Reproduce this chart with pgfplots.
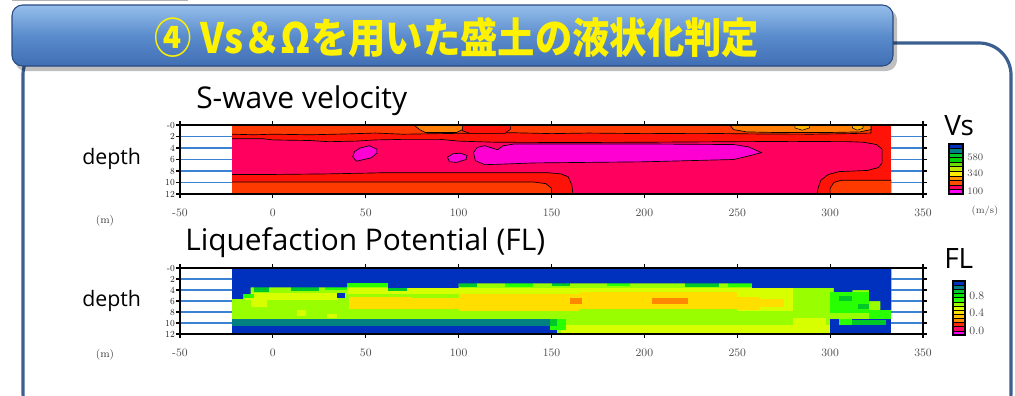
\documentclass[border=0pt]{standalone}
\usepackage{pgfplots}
\pgfplotsset{compat=1.18}
\usepackage{fontspec}
\newfontfamily\osans{Open Sans}
\newfontfamily\cjk{Noto Sans CJK JP}
\definecolor{vsOR}{RGB}{255,58,0}
\definecolor{vsRed}{RGB}{255,18,8}
\definecolor{vsCrim}{RGB}{255,0,95}
\definecolor{vsMag}{RGB}{255,0,210}
\definecolor{vsOrange}{RGB}{255,125,0}
\definecolor{vsYel}{RGB}{255,180,0}
\definecolor{flBlue}{RGB}{0,48,190}
\definecolor{flTeal}{RGB}{0,128,128}
\definecolor{flDG}{RGB}{0,200,40}
\definecolor{flG}{RGB}{40,255,0}
\definecolor{flCh}{RGB}{153,255,0}
\definecolor{flLY}{RGB}{215,255,0}
\definecolor{flYel}{RGB}{255,222,0}
\definecolor{flOr}{RGB}{255,136,0}
\definecolor{cbA}{RGB}{0,210,0}
\definecolor{cbB}{RGB}{110,220,0}
\definecolor{cbC}{RGB}{190,230,0}
\definecolor{cbD}{RGB}{255,235,0}
\definecolor{cbE}{RGB}{255,150,0}
\definecolor{cbF}{RGB}{255,80,0}
\definecolor{cbM}{RGB}{255,0,255}
\definecolor{cbG}{RGB}{0,230,0}
\definecolor{cbH}{RGB}{255,190,0}
\definecolor{cbR}{RGB}{255,40,0}
\definecolor{gridblue}{RGB}{60,130,210}
\definecolor{frameblue}{RGB}{60,95,145}
\definecolor{bantop}{RGB}{150,190,235}
\definecolor{banmid}{RGB}{90,140,205}
\definecolor{banbot}{RGB}{65,110,180}
\definecolor{bandark}{RGB}{40,75,130}
\newcommand{\rect}[5]{\addplot[fill=#1,draw=none,forget plot] coordinates {(#2,#4) (#3,#4) (#3,#5) (#2,#5)} --cycle;}
\pgfplotsset{
  mapaxis/.style={
    scale only axis, width=557.25pt,
    xmin=-50, xmax=350, ymin=0, ymax=12, y dir=reverse,
    axis on top, clip=true,
    xtick={-50,0,...,350}, ytick={0,2,...,12},
    xticklabels={-50,0,50,100,150,200,250,300,350},
    yticklabels={-0,2,4,6,8,10,12},
    tick align=outside, major tick length=3pt,
    every tick/.style={black, line width=0.9pt},
    axis line style={line width=1pt},
    xticklabel style={font=\fontsize{8.5}{8.5}\selectfont, text=black!70, yshift=-5pt},
    yticklabel style={font=\fontsize{7}{7}\selectfont, text=black!85, inner sep=0.8pt, xscale=0.9},
  }
}
\begin{document}
\begin{tikzpicture}
\path[use as bounding box] (0,0) rectangle (761.25pt,-297pt);
\begin{scope}[x=0.75pt,y=-0.75pt]
  \begin{scope}
    \clip (0,0) rectangle (1015,396);
    \draw[frameblue, line width=2.4pt, rounded corners=24pt] (23,43) rectangle (1011,425);
    \draw[gray!60, line width=0.6pt] (12,0.6) -- (188,0.6);
  \end{scope}
  \fill[black, opacity=0.25, rounded corners=8pt] (15,9) rectangle (897,71);
  \shadedraw[top color=bantop, bottom color=banbot, middle color=banmid, draw=bandark, line width=0.8pt, rounded corners=8pt] (12,5) rectangle (893,66);
  \node[text=yellow, font=\cjk\bfseries\fontsize{28}{28}\selectfont, yscale=1.12] at (457,38) {④ Vs＆Ωを用いた盛土の液状化判定};
  % titles
  \node[anchor=base west, inner sep=0pt, font=\osans\fontsize{22.5}{22.5}\selectfont] at (196,108) {S-wave velocity};
  \node[anchor=base west, inner sep=0pt, font=\osans\fontsize{22.4}{22.4}\selectfont] at (185,250) {Liquefaction Potential (FL)};
  \node[anchor=base west, inner sep=0pt, font=\osans\fontsize{16}{16}\selectfont] at (82,164) {depth};
  \node[anchor=base west, inner sep=0pt, font=\osans\fontsize{16}{16}\selectfont] at (82,306) {depth};
  \node[anchor=base west, inner sep=0pt, font=\osans\fontsize{21}{21}\selectfont] at (944,135) {Vs};
  \node[anchor=base west, inner sep=0pt, font=\osans\fontsize{21}{21}\selectfont] at (944,268) {FL};
  \node[font=\fontsize{8}{8}\selectfont, text=black!75] at (105,221) {(m)};
  \node[font=\fontsize{8}{8}\selectfont, text=black!75] at (105,355) {(m)};
  % Vs colour bar
  \foreach \c [count=\i from 0] in {flBlue,flTeal,flDG,cbA,cbB,cbC,cbD,cbE,cbF,vsCrim,cbM}{
    \fill[\c] (949,{144+\i*4.545}) rectangle (963,{144+(\i+1)*4.545});
    \draw[black, line width=0.4pt] (949,{144+\i*4.545}) -- (963,{144+\i*4.545});
  }
  \draw[black, line width=0.8pt] (949,144) rectangle (963,194);
  \node[anchor=west, font=\fontsize{7.5}{7.5}\selectfont, text=black!70, inner sep=0pt] at (967,157) {580};
  \node[anchor=west, font=\fontsize{7.5}{7.5}\selectfont, text=black!70, inner sep=0pt] at (967,173) {340};
  \node[anchor=west, font=\fontsize{7.5}{7.5}\selectfont, text=black!70, inner sep=0pt] at (967,191) {100};
  \node[font=\fontsize{7.5}{7.5}\selectfont, text=black!70] at (985,211) {(m/s)};
  % FL colour bar
  \foreach \c [count=\i from 0] in {flBlue,flTeal,flDG,cbG,flG,flCh,flLY,flYel,cbH,flOr,cbR,vsCrim,cbM}{
    \fill[\c] (953,{281+\i*4.154}) rectangle (965,{281+(\i+1)*4.154});
    \draw[black, line width=0.4pt] (953,{281+\i*4.154}) -- (965,{281+\i*4.154});
  }
  \draw[black, line width=0.8pt] (953,281) rectangle (965,335);
  \node[anchor=west, font=\fontsize{8.5}{8.5}\selectfont, text=black!70, inner sep=0pt] at (969,296) {0.8};
  \node[anchor=west, font=\fontsize{8.5}{8.5}\selectfont, text=black!70, inner sep=0pt] at (969,313) {0.4};
  \node[anchor=west, font=\fontsize{8.5}{8.5}\selectfont, text=black!70, inner sep=0pt] at (969,331) {0.0};
\end{scope}

% ---------------- Vs map ----------------
\begin{axis}[mapaxis, height=51.75pt, at={(135pt,-93.75pt)}, anchor=north west]
  \rect{vsRed}{-22}{333}{0}{12}
  \addplot[fill=vsOR, draw=none, forget plot] coordinates {(-22,0) (322,0) (322,1.4) (310,1.5) (290,1.6) (260,1.55) (230,1.45) (200,1.5) (170,1.4) (150,1.5) (130,1.35) (110,1.4) (90,1.5) (70,1.6) (55,1.4) (40,1.55) (20,1.7) (0,1.6) (-10,1.7) (-22,1.6)} --cycle;
  \addplot[black, line width=0.5pt, forget plot] coordinates {(322,0) (322,1.4) (310,1.5) (290,1.6) (260,1.55) (230,1.45) (200,1.5) (170,1.4) (150,1.5) (130,1.35) (110,1.4) (90,1.5) (70,1.6) (55,1.4) (40,1.55) (20,1.7) (0,1.6) (-10,1.7) (-22,1.6)};
  \addplot[fill=vsRed, draw=black, line width=0.5pt, forget plot] coordinates {(102,0) (128,0) (128,0.7) (125,1.45) (106,1.45) (102,1.0)} --cycle;
  \addplot[fill=vsOrange, draw=black, line width=0.5pt, forget plot] coordinates {(76,0) (102,0) (102,0.8) (99,1.3) (82,1.3) (79,0.8)} --cycle;
  \addplot[fill=vsOrange, draw=black, line width=0.5pt, forget plot] coordinates {(246,0) (322,0) (322,0.8) (316,1.2) (300,1.3) (270,1.3) (255,1.2) (248,0.8)} --cycle;
  \addplot[fill=vsYel, draw=black, line width=0.4pt, forget plot] coordinates {(281,0) (289,0) (289,0.5) (285,0.9) (281,0.5)} --cycle;
  \addplot[fill=vsYel, draw=black, line width=0.4pt, forget plot] coordinates {(312,0) (318,0) (317.5,0.6) (314.5,0.9) (312,0.5)} --cycle;
  \addplot[fill=vsCrim, draw=none, forget plot] coordinates {(-22,2.4) (-5,2.4) (0,2.6) (20,2.7) (30,2.9) (45,2.8) (55,2.6) (70,2.5) (90,2.5) (100,2.8) (120,3.0) (160,3.05) (200,3.0) (250,2.9) (280,2.85) (310,2.9) (318,3.0) (325,3.4) (328,4.2) (328,6.6) (326,7.4) (320,7.9) (305,8.1) (299,8.6) (295,9.6) (293.5,11) (293,12) (161.5,12) (161,10.5) (159,9.0) (155,8.5) (148,8.3) (60,8.3) (30,8.5) (0,8.6) (-22,8.6)} --cycle;
  \addplot[black, line width=0.5pt, forget plot] coordinates {(-22,2.4) (-5,2.4) (0,2.6) (20,2.7) (30,2.9) (45,2.8) (55,2.6) (70,2.5) (90,2.5) (100,2.8) (120,3.0) (160,3.05) (200,3.0) (250,2.9) (280,2.85) (310,2.9) (318,3.0) (325,3.4) (328,4.2) (328,6.6) (326,7.4) (320,7.9) (305,8.1) (299,8.6) (295,9.6) (293.5,11) (293,12)};
  \addplot[black, line width=0.5pt, forget plot] coordinates {(161.5,12) (161,10.5) (159,9.0) (155,8.5) (148,8.3) (60,8.3) (30,8.5) (0,8.6) (-22,8.6)};
  \addplot[fill=vsOR, draw=none, forget plot] coordinates {(-22,9.9) (140,9.9) (147,10.2) (150,11) (150,12) (-22,12)} --cycle;
  \addplot[black, line width=0.5pt, forget plot] coordinates {(-22,9.9) (140,9.9) (147,10.2) (150,11) (150,12)};
  \addplot[fill=vsOR, draw=none, forget plot] coordinates {(333,9.6) (306,9.6) (302,10.0) (300,11) (300,12) (333,12)} --cycle;
  \addplot[black, line width=0.5pt, forget plot] coordinates {(333,9.6) (306,9.6) (302,10.0) (300,11) (300,12)};
  \addplot[fill=vsMag, draw=black, line width=0.5pt, forget plot] coordinates {(43,5.5) (44,4.6) (47,4.0) (52,3.6) (56,4.2) (56,4.9) (53,5.7) (49,6.0) (45,6.3)} --cycle;
  \addplot[fill=vsMag, draw=black, line width=0.5pt, forget plot] coordinates {(94,5.6) (97,5.0) (101,4.9) (104.5,5.3) (104,6.0) (99,6.5) (95,6.4)} --cycle;
  \addplot[fill=vsMag, draw=black, line width=0.5pt, forget plot] coordinates {(108,4.8) (110,3.9) (114,3.6) (118,4.0) (121,4.3) (124,3.6) (130,3.3) (200,3.3) (248,3.4) (256,3.8) (263,4.8) (256,5.4) (248,6.0) (200,6.4) (140,6.6) (124,6.8) (114,6.9) (109,6.2)} --cycle;
  \pgfplotsinvokeforeach{2,4,6,8,10}{
    \addplot[gridblue, line width=0.8pt, forget plot] coordinates {(-50,#1) (-22,#1)};
    \addplot[gridblue, line width=0.8pt, forget plot] coordinates {(333,#1) (350,#1)};
  }
\end{axis}

% ---------------- FL map ----------------
\begin{axis}[mapaxis, height=49.5pt, at={(135pt,-201pt)}, anchor=north west]
  \rect{flCh}{-22}{333}{0}{12}
  \rect{flLY}{-15}{35}{4.6}{5.8}
  \rect{flLY}{-12}{-3}{5.8}{7.0}
  \rect{flLY}{13}{18}{7.6}{8.7}
  \rect{flLY}{29}{34.5}{8.3}{9.0}
  \rect{flLY}{40}{250}{3.6}{4.8}
  \rect{flLY}{250}{280}{3.6}{7.8}
  \rect{flLY}{155}{300}{10.3}{12}
  \rect{flLY}{280}{298}{9.0}{10.3}
  \rect{flYel}{41}{75}{5.3}{7.4}
  \rect{flYel}{75}{100}{5.5}{7.4}
  \rect{flYel}{100}{165}{4.8}{7.8}
  \rect{flYel}{165}{250}{4.4}{7.5}
  \rect{flYel}{250}{262}{5.3}{7.6}
  \rect{flYel}{262}{275}{5.6}{7.0}
  \rect{flOr}{160}{166.3}{5.4}{6.6}
  \rect{flOr}{204}{223.7}{5.4}{6.6}
  \rect{flDG}{-10}{-2}{3.5}{4.3}
  \rect{flG}{-16}{-10}{4.7}{5.4}
  \rect{flDG}{10}{25}{3.5}{4.1}
  \rect{flG}{28}{40}{3.5}{4.0}
  \rect{flG}{40}{62}{2.7}{3.5}
  \rect{flDG}{62}{72}{3.6}{4.1}
  \rect{flDG}{100}{110}{2.8}{3.5}
  \rect{flG}{125}{140}{2.8}{3.4}
  \rect{flDG}{150}{160}{2.8}{3.3}
  \rect{flG}{180}{192}{2.8}{3.3}
  \rect{flDG}{222}{240}{2.8}{3.4}
  \rect{flG}{245}{258}{2.8}{3.4}
  \addplot[fill=flBlue, draw=none, forget plot] coordinates {(-22,0) (333,0) (333,7.6) (327,7.6) (327,6.0) (321,6.0) (321,4.0) (312,4.0) (312,4.6) (302,4.6) (302,3.6) (258,3.6) (258,2.8) (100,2.8) (100,3.6) (62,3.6) (62,2.7) (40,2.7) (40,3.5) (-12,3.5) (-12,4.7) (-16,4.7) (-16,5.6) (-22,5.6)} --cycle;
  \rect{flBlue}{34.5}{39}{4.6}{5.5}
  \rect{flTeal}{-22}{149}{9.3}{10.55}
  \rect{flBlue}{-22}{153}{10.55}{11.75}
  \rect{flG}{-22}{153}{11.75}{12}
  \rect{flG}{149}{158}{9.3}{11.2}
  \rect{flDG}{149}{153}{9.3}{10.55}
  \rect{flG}{300}{321}{4.4}{8.1}
  \rect{flDG}{305}{312}{5.0}{6.0}
  \rect{flDG}{315}{321}{6.5}{7.5}
  \rect{flG}{321}{333}{7.6}{9.3}
  \rect{flBlue}{300}{333}{9.3}{12}
  \rect{flG}{305}{312}{9.3}{10.3}
  \rect{flDG}{312}{330}{9.4}{10.3}
  \pgfplotsinvokeforeach{2,4,6,8,10}{
    \addplot[gridblue, line width=0.8pt, forget plot] coordinates {(-50,#1) (-22,#1)};
    \addplot[gridblue, line width=0.8pt, forget plot] coordinates {(333,#1) (350,#1)};
  }
\end{axis}
\end{tikzpicture}
\end{document}
